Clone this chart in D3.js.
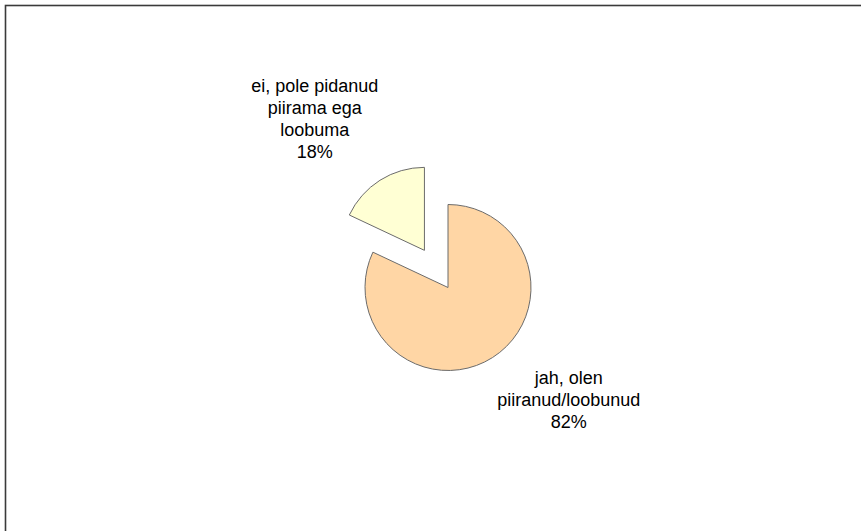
<!DOCTYPE html>
<html>
<head>
<meta charset="utf-8">
<script src="https://d3js.org/d3.v7.min.js"></script>
<style>
  body { margin: 0; background: #fff; }
  svg { display: block; font-family: "Liberation Sans", Arial, sans-serif; }
</style>
</head>
<body>
<script>
    // data
    let categories = ["jah, olen piiranud/loobunud", "ei, pole pidanud piirama ega loobuma"];
    let labelLines = [["jah, olen", "piiranud/loobunud"], ["ei, pole pidanud", "piirama ega", "loobuma"]];
    let values = [82, 18];
    let colors = ["#FFD6A5", "#FFFFD4"];
    let exploded = [0, 44];

    let width = 861,
        height = 531;

    let svg = d3.select("body").append("svg")
        .attr("width", width)
        .attr("height", height);

    // frame (only top/left edges visible in the window)
    svg.append("rect")
        .attr("x", 5.5).attr("y", 5.5)
        .attr("width", 900).attr("height", 600)
        .attr("fill", "none")
        .attr("stroke", "#3a3a3a")
        .attr("stroke-width", 1.6);

    let cx = 448, cy = 287.5, r = 83;
    let total = d3.sum(values);

    let pie = d3.pie().sort(null).value(d => d);
    let arcs = pie(values);
    let arc = d3.arc().innerRadius(0).outerRadius(r);

    let g = svg.append("g").attr("transform", `translate(${cx},${cy})`);

    g.selectAll("path")
        .data(arcs)
        .join("path")
            .attr("d", arc)
            .attr("transform", function(d, i) {
                let a = (d.startAngle + d.endAngle) / 2;
                return `translate(${Math.sin(a) * exploded[i]},${-Math.cos(a) * exploded[i]})`;
            })
            .attr("fill", (d, i) => colors[i])
            .attr("stroke", "#6b6b6b")
            .attr("stroke-width", 1);

    // labels, placed relative to slice mid angle
    let labelDist = [165, 215];
    let labelTurn = [-0.256, -0.103];
    let lineH = 22;

    arcs.forEach(function(d, i) {
        let a = (d.startAngle + d.endAngle) / 2 + labelTurn[i];
        let lx = Math.sin(a) * labelDist[i];
        let ly = -Math.cos(a) * labelDist[i];
        let lines = labelLines[i].concat([Math.round(values[i] / total * 100) + "%"]);
        let t = g.append("text")
            .attr("text-anchor", "middle")
            .attr("font-size", 18)
            .attr("fill", "#000");
        let y0 = ly - (lines.length - 1) * lineH / 2 + 6.5;
        lines.forEach(function(s, k) {
            t.append("tspan")
                .attr("x", lx)
                .attr("y", y0 + k * lineH)
                .text(s);
        });
    });
</script>
</body>
</html>
